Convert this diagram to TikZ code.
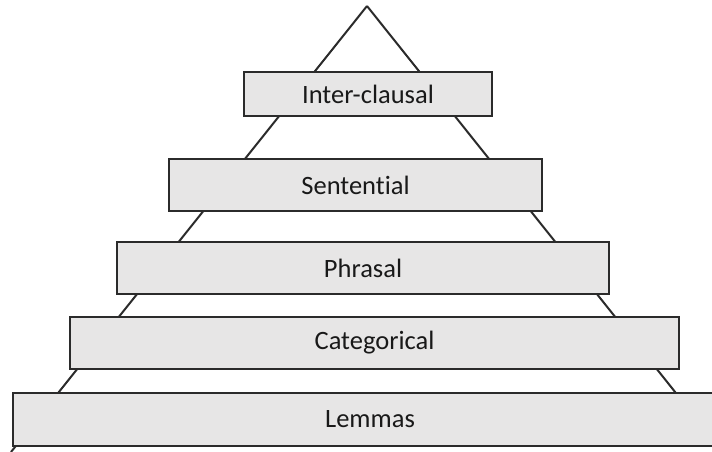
\documentclass[tikz,border=0pt]{standalone}
\usepackage{fontspec}
\setmainfont{Carlito}[Ligatures=NoCommon]
\definecolor{layerfill}{HTML}{E7E6E6}
\definecolor{layerline}{HTML}{2B2B2B}
\tikzset{
  layer/.style={draw=layerline, fill=layerfill, line width=2pt, inner sep=0pt,
    text=black!90, font=\fontsize{26.5}{30}\selectfont},
  side/.style={draw=layerline, line width=2pt}
}
\begin{document}
\begin{tikzpicture}[x=1pt, y=-1pt]
  \useasboundingbox (0,0) rectangle (712,452);
  \clip (0,0) rectangle (712,452);

  % sides of the pyramid
  \coordinate (apex) at (367,6);
  \coordinate (baseL) at (11,452);
  \coordinate (baseR) at (723,452);
  \draw[side] (apex) -- (baseL);
  \draw[side] (apex) -- (baseR);

  % layers, top to bottom
  \node[layer, minimum width=248, minimum height=44] (inter) at (368,94) {Inter-clausal};
  \node[layer, minimum width=373, minimum height=52] (sent) at (355.5,185) {Sentential};
  \node[layer, minimum width=492, minimum height=52] (phr) at (363,268) {Phrasal};
  \node[layer, minimum width=609, minimum height=52] (cat) at (374.5,343) {Categorical};
  \node[layer, minimum width=714, minimum height=53] (lem) at (370,419.5) {Lemmas};
\end{tikzpicture}
\end{document}
